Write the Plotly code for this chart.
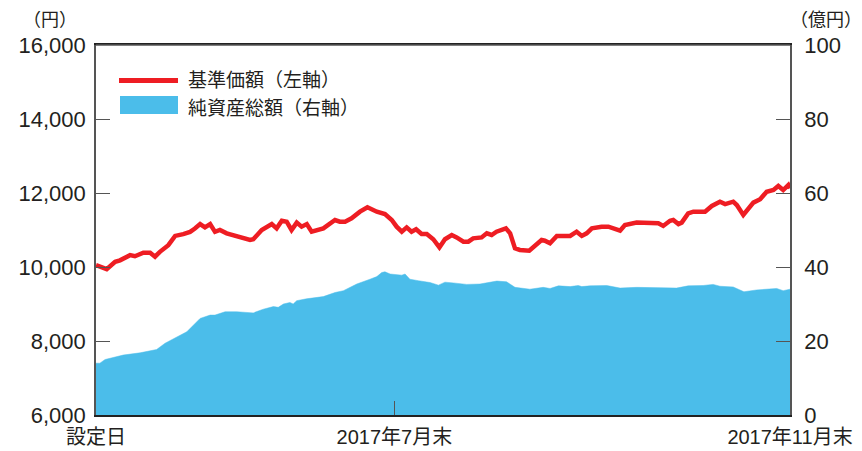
import plotly.graph_objects as go

# ---- data (x = days since fund inception) ----
nav_days = [0, 3.3, 5.9, 7.4, 10.5, 12.0, 14.6, 16.7, 18.2, 19.7, 22.3, 24.4, 26.9, 29.0, 30.5,
            32.1, 33.6, 35.2, 36.7, 38.2, 40.3, 42.3, 45.4, 47.5, 48.5, 51.1, 54.2, 55.7, 57.3,
            58.8, 60.3, 61.9, 63.4, 65.0, 66.5, 70.1, 73.7, 75.2, 76.8, 78.8, 81.4, 83.7, 86.6,
            89.1, 91.2, 92.7, 94.3, 95.8, 97.3, 98.7, 100.4, 102.0, 104.0, 105.9, 107.6, 109.7,
            111.2, 113.3, 114.8, 116.3, 118.9, 120.5, 122.0, 123.5, 126.4, 127.7, 129.2, 130.7,
            133.6, 135.4, 137.4, 138.4, 140.0, 142.1, 143.1, 145.1, 146.2, 148.2, 149.8, 151.3,
            152.9, 155.9, 158.0, 161.6, 163.1, 166.7, 169.8, 173.4, 174.9, 177.0, 178.0, 179.6,
            180.6, 182.6, 184.2, 187.8, 189.9, 192.4, 194.0, 196.5, 197.6, 199.6, 202.7, 204.8,
            206.8, 208.9, 210.4, 211.9, 213.5, 214]
nav_values = [10050, 9940, 10140, 10180, 10320, 10290, 10385, 10385, 10280, 10410, 10590, 10840,
              10890, 10950, 11040, 11160, 11070, 11160, 10950, 11000, 10910, 10865, 10775, 10730,
              10750, 11000, 11160, 11045, 11250, 11225, 11000, 11200, 11090, 11160, 10955, 11045,
              11270, 11225, 11225, 11315, 11495, 11615, 11495, 11430, 11270, 11090, 10955, 11070,
              10955, 11020, 10890, 10890, 10750, 10530, 10750, 10865, 10800, 10685, 10685, 10775,
              10800, 10910, 10865, 10955, 11045, 10910, 10505, 10460, 10440, 10595, 10730, 10710,
              10640, 10840, 10840, 10865, 10840, 10955, 10840, 10910, 11045, 11090, 11090, 10980,
              11135, 11200, 11180, 11180, 11110, 11250, 11270, 11160, 11200, 11450, 11495, 11495,
              11650, 11765, 11700, 11765, 11675, 11405, 11740, 11830, 12035, 12080, 12190, 12080,
              12215, 12130]

aum_days = [0, 1.2, 2.8, 8.4, 13.6, 18.7, 21.3, 23.8, 28.0, 32.1, 35.2, 36.7, 39.8, 43.4, 46.5,
            48.5, 51.6, 54.7, 56.2, 57.8, 59.8, 60.8, 61.9, 64.9, 70.1, 73.7, 76.3, 80.4, 84.5,
            86.6, 88.1, 89.1, 90.7, 94.3, 95.3, 96.8, 99.4, 103.0, 105.6, 107.6, 110.2, 114.3,
            118.4, 123.6, 126.6, 129.2, 133.8, 137.9, 140.0, 142.6, 146.2, 148.7, 149.8, 152.3,
            157.5, 161.6, 166.7, 171.8, 179.0, 182.6, 187.2, 190.3, 192.4, 196.5, 199.8, 203.7,
            209.9, 211.9, 214]
aum_values = [14.0, 14.0, 15.0, 16.2, 16.8, 17.7, 19.4, 20.5, 22.5, 26.1, 27.0, 27.0, 27.9, 27.9,
              27.6, 27.6, 28.6, 29.3, 29.1, 30.0, 30.4, 30.0, 30.9, 31.4, 32.0, 33.1, 33.6, 35.4,
              36.7, 37.4, 38.5, 38.7, 38.1, 37.8, 38.1, 36.7, 36.3, 35.8, 35.1, 35.9, 35.7, 35.3,
              35.4, 36.2, 36.0, 34.5, 34.0, 34.5, 34.2, 34.9, 34.7, 35.0, 34.7, 34.9, 35.0, 34.3,
              34.5, 34.5, 34.3, 34.9, 35.0, 35.3, 34.8, 34.6, 33.3, 33.8, 34.2, 33.6, 34.0]

x_tickvals = [0, 92, 214]
x_ticktext = ["設定日", "2017年7月末", "2017年11月末"]
left_ticks = [6000, 8000, 10000, 12000, 14000, 16000]
right_ticks = [0, 20, 40, 60, 80, 100]
legend_labels = ["基準価額（左軸）", "純資産総額（右軸）"]
unit_labels = ["（円）", "（億円）"]

RED = "#EE1D23"
BLUE = "#4BBDEA"
AXIS = "#555555"
FONT = "Liberation Sans, Noto Sans CJK JP, sans-serif"
CJK = "Noto Sans CJK JP"

fig = go.Figure()
# base y axis (right side) holds the area; overlay (left side) holds the line on top
fig.add_trace(go.Scatter(x=aum_days, y=aum_values, mode="lines", fill="tozeroy",
                         fillcolor=BLUE, line=dict(color=BLUE, width=0.5),
                         yaxis="y", showlegend=False, hoverinfo="skip"))
fig.add_trace(go.Scatter(x=nav_days, y=nav_values, mode="lines",
                         line=dict(color=RED, width=4.5), yaxis="y2",
                         showlegend=False, hoverinfo="skip"))

W, H = 862, 451
L, R, T, B = 96, 72, 45, 36
pw, ph = W - L - R, H - T - B

def px(xp):
    return (xp - L) / pw

def py(yp):
    return (H - B - yp) / ph

fig.update_layout(
    width=W, height=H,
    margin=dict(l=L, r=R, t=T, b=B, autoexpand=False),
    paper_bgcolor="white", plot_bgcolor="white",
    font=dict(family=FONT, color="#231F20"),
    xaxis=dict(range=[0, 214], tickvals=x_tickvals, ticktext=x_ticktext,
               ticks="inside", ticklen=14, tickwidth=1.3, tickcolor=AXIS,
               showline=True, linecolor="#222222", linewidth=1.6, mirror=True,
               showgrid=False, zeroline=False, automargin=False,
               tickfont=dict(size=20), ticklabelstandoff=3),
    yaxis=dict(range=[0, 100], tickvals=right_ticks, side="right",
               ticks="inside", ticklen=14, tickwidth=1.3, tickcolor=AXIS,
               showline=True, linecolor=AXIS, linewidth=1.6, automargin=False,
               showgrid=False, zeroline=False, tickfont=dict(size=22),
               ticklabelstandoff=8),
    yaxis2=dict(range=[6000, 16000], tickvals=left_ticks, overlaying="y", side="left",
                tickformat=",d", automargin=False,
                ticks="inside", ticklen=14, tickwidth=1.3, tickcolor=AXIS,
                showline=True, linecolor=AXIS, linewidth=1.6,
                showgrid=False, zeroline=False, tickfont=dict(size=22),
                ticklabelstandoff=4),
)

# top border of the frame
fig.add_shape(type="line", xref="paper", yref="paper", x0=0, x1=1, y0=1, y1=1,
              line=dict(color=AXIS, width=1.6))

# legend drawn manually
fig.add_shape(type="line", xref="paper", yref="paper", x0=px(119), x1=px(178),
              y0=py(80.5), y1=py(80.5), line=dict(color=RED, width=5))
fig.add_shape(type="rect", xref="paper", yref="paper", x0=px(120), x1=px(178),
              y0=py(114), y1=py(96), line=dict(width=0), fillcolor=BLUE)
fig.add_annotation(xref="paper", yref="paper", x=px(186), y=py(78), text=legend_labels[0],
                   showarrow=False, xanchor="left", yanchor="middle",
                   font=dict(size=19, family=CJK))
fig.add_annotation(xref="paper", yref="paper", x=px(186), y=py(106), text=legend_labels[1],
                   showarrow=False, xanchor="left", yanchor="middle",
                   font=dict(size=19, family=CJK))

# unit labels
fig.add_annotation(xref="paper", yref="paper", x=px(50), y=py(18), text=unit_labels[0],
                   showarrow=False, xanchor="center", yanchor="middle",
                   font=dict(size=18, family=CJK))
fig.add_annotation(xref="paper", yref="paper", x=px(826), y=py(18), text=unit_labels[1],
                   showarrow=False, xanchor="center", yanchor="middle",
                   font=dict(size=18, family=CJK))

fig.write_html("out.html", config={"displayModeBar": False},
               post_script="document.body.style.margin='0';document.body.style.overflow='hidden';")
